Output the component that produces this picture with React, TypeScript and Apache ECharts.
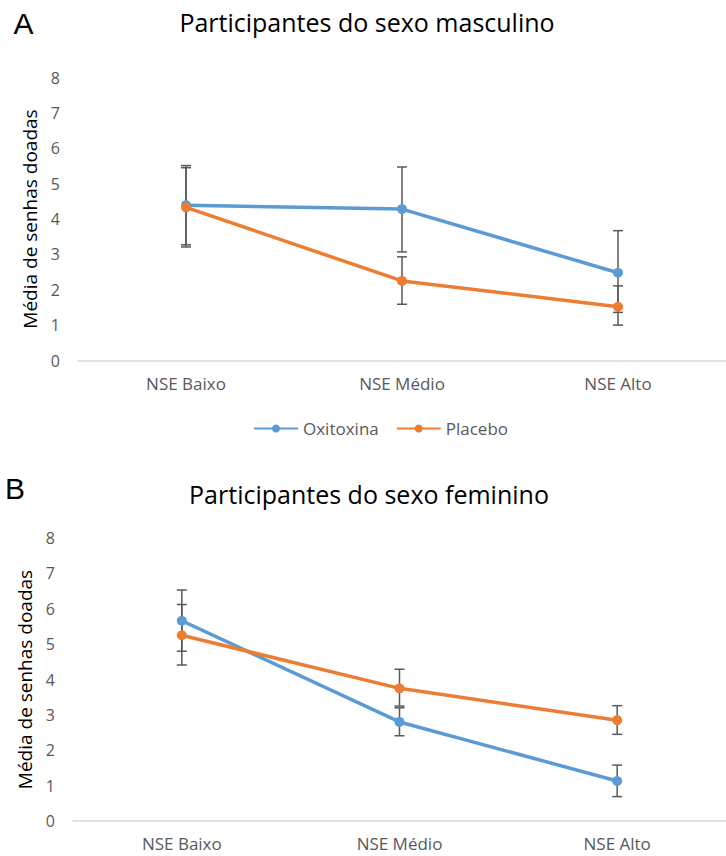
import React, { useEffect, useRef } from "react";
import * as echarts from "echarts";

const categories = ["NSE Baixo", "NSE Médio", "NSE Alto"];
const seriesNames = ["Oxitoxina", "Placebo"];
const yTicks = [0, 1, 2, 3, 4, 5, 6, 7, 8];

// Painel A – masculino
const maleOxitoxina = [4.39, 4.28, 2.48];
const malePlacebo = [4.33, 2.25, 1.52];
const maleOxiUpper = [5.51, 5.47, 3.67];
const maleOxiLower = [3.27, 3.07, 1.36];
const malePlaceboUpper = [5.45, 2.93, 2.11];
const malePlaceboLower = [3.21, 1.59, 1.0];

// Painel B – feminino
const femaleOxitoxina = [5.66, 2.8, 1.13];
const femalePlacebo = [5.25, 3.75, 2.85];
const femaleOxiUpper = [6.53, 3.2, 1.58];
const femaleOxiLower = [4.8, 2.41, 0.69];
const femalePlaceboUpper = [6.12, 4.29, 3.26];
const femalePlaceboLower = [4.41, 3.25, 2.45];

const BLUE = "#5B9BD5";
const ORANGE = "#ED7D31";
const GREY = "#595959";
const FONT = "'Open Sans', 'Noto Sans', sans-serif";
const LETTER_FONT = "'Liberation Sans', Arial, sans-serif";

function errData(upper: number[], lower: number[]) {
  return upper.map((u, i) => [i, u, lower[i]]);
}

function errorSeries(idx: number, upper: number[], lower: number[]) {
  return {
    type: "custom",
    xAxisIndex: idx,
    yAxisIndex: idx,
    z: 1,
    silent: true,
    encode: { x: 0, y: [1, 2] },
    data: errData(upper, lower),
    renderItem: (params: any, api: any) => {
      const x = api.value(0);
      const hi = api.coord([x, api.value(1)]);
      const lo = api.coord([x, api.value(2)]);
      const w = 5;
      const style = { stroke: GREY, lineWidth: 1.5 };
      return {
        type: "group",
        children: [
          { type: "line", shape: { x1: hi[0], y1: hi[1], x2: lo[0], y2: lo[1] }, style },
          { type: "line", shape: { x1: hi[0] - w, y1: hi[1], x2: hi[0] + w, y2: hi[1] }, style },
          { type: "line", shape: { x1: lo[0] - w, y1: lo[1], x2: lo[0] + w, y2: lo[1] }, style },
        ],
      };
    },
  };
}

function lineSeries(name: string, idx: number, data: number[], color: string) {
  return {
    name,
    type: "line",
    xAxisIndex: idx,
    yAxisIndex: idx,
    z: 3,
    data,
    symbol: "circle",
    symbolSize: 10,
    itemStyle: { color },
    lineStyle: { color, width: 3.5 },
  };
}

function xAxisCfg(idx: number) {
  return {
    type: "category",
    gridIndex: idx,
    data: categories,
    boundaryGap: true,
    axisLine: { show: true, lineStyle: { color: "#D9D9D9", width: 1.5 } },
    axisTick: { show: false },
    axisLabel: { color: GREY, fontSize: 17, fontFamily: FONT, margin: 14 },
  };
}

function yAxisCfg(idx: number) {
  return {
    type: "value",
    gridIndex: idx,
    min: yTicks[0],
    max: yTicks[yTicks.length - 1],
    interval: 1,
    name: "Média de senhas doadas",
    nameLocation: "middle",
    nameRotate: 90,
    nameGap: 38,
    nameTextStyle: { color: "#000", fontSize: 19, fontFamily: FONT },
    axisLine: { show: false },
    axisTick: { show: false },
    splitLine: { show: false },
    axisLabel: { color: GREY, fontSize: 16, fontFamily: FONT, margin: 18 },
  };
}

export default function App() {
  const ref = useRef<HTMLDivElement>(null);
  useEffect(() => {
    if (!ref.current) return;
    const chart = echarts.init(ref.current, undefined, { renderer: "svg" });
    chart.setOption({
      animation: false,
      backgroundColor: "#fff",
      textStyle: { fontFamily: FONT },
      grid: [
        { left: 78, top: 77.5, height: 283, width: 659 },
        { left: 73, top: 538, height: 283, width: 659 },
      ],
      xAxis: [xAxisCfg(0), xAxisCfg(1)],
      yAxis: [yAxisCfg(0), yAxisCfg(1)],
      legend: {
        data: seriesNames,
        top: 415,
        left: 248,
        itemWidth: 44,
        itemHeight: 10,
        itemGap: 17,
        textStyle: { color: GREY, fontSize: 17, fontFamily: FONT },
      },
      graphic: [
        { type: "text", x: 23.5, y: 23, style: { text: "A", fontSize: 30, fontFamily: LETTER_FONT, fill: "#000", textAlign: "center", textVerticalAlign: "middle" } },
        { type: "text", x: 15, y: 488, style: { text: "B", fontSize: 30, fontFamily: LETTER_FONT, fill: "#000", textAlign: "center", textVerticalAlign: "middle" } },
        { type: "text", x: 367, y: 22, style: { text: "Participantes do sexo masculino", fontSize: 25, fontFamily: FONT, fill: "#000", textAlign: "center", textVerticalAlign: "middle" } },
        { type: "text", x: 369, y: 494, style: { text: "Participantes do sexo feminino", fontSize: 25, fontFamily: FONT, fill: "#000", textAlign: "center", textVerticalAlign: "middle" } },
      ],
      series: [
        errorSeries(0, maleOxiUpper, maleOxiLower),
        errorSeries(0, malePlaceboUpper, malePlaceboLower),
        lineSeries(seriesNames[0], 0, maleOxitoxina, BLUE),
        lineSeries(seriesNames[1], 0, malePlacebo, ORANGE),
        errorSeries(1, femaleOxiUpper, femaleOxiLower),
        errorSeries(1, femalePlaceboUpper, femalePlaceboLower),
        lineSeries(seriesNames[0], 1, femaleOxitoxina, BLUE),
        lineSeries(seriesNames[1], 1, femalePlacebo, ORANGE),
      ],
    });
    return () => chart.dispose();
  }, []);
  return (
    <div
      ref={ref}
      style={{ position: "fixed", left: 0, top: 0, width: 726, height: 856, background: "#fff" }}
    />
  );
}
